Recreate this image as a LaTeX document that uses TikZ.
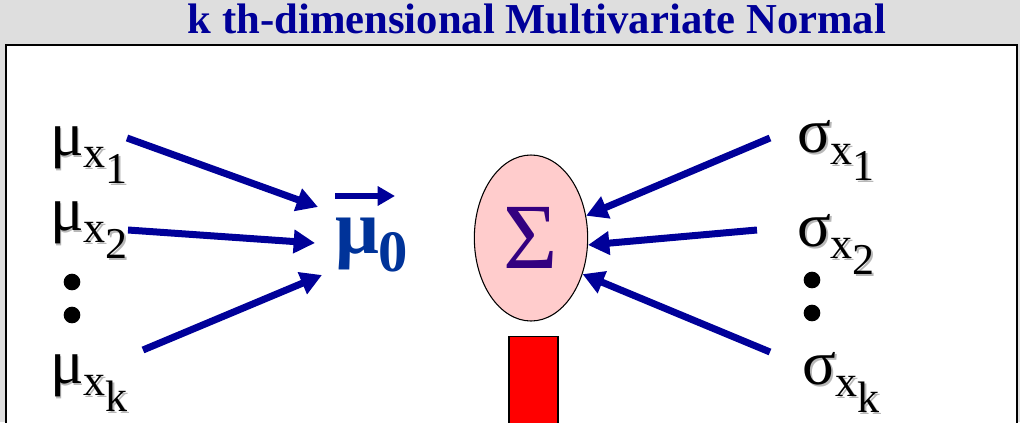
\documentclass[tikz,border=0pt]{standalone}
\usepackage{fontspec}
\setmainfont{Liberation Serif}
\usetikzlibrary{arrows.meta,shapes.geometric,calc}
\definecolor{bg}{RGB}{222,222,222}
\definecolor{titleblue}{RGB}{0,0,153}
\definecolor{arrowblue}{RGB}{0,0,153}
\definecolor{muzero}{RGB}{0,51,153}
\definecolor{sigmapurple}{RGB}{51,0,128}
\definecolor{pinkfill}{RGB}{255,204,204}
\newcommand\shd[1]{\makebox[0pt][l]{\kern1.5pt\raisebox{-1.5pt}{\color{black!28}#1}}#1}
\newcommand\glbl[3]{\shd{\fontsize{47}{47}\selectfont #1\raisebox{-9.5pt}{\fontsize{33}{33}\selectfont #2\raisebox{-11.5pt}{#3}}}}
\tikzset{
  lbl/.style={anchor=base west, inner sep=0pt, outer sep=0pt},
  bigarrow/.style={draw=arrowblue, line width=5.25pt, -{Triangle[length=16pt,width=17pt]}},
  vecarrow/.style={draw=arrowblue, line width=4.2pt, -{Triangle[length=13pt,width=14pt]}},
  dotnode/.style={circle, fill=black, minimum size=12.5pt, inner sep=0pt}
}
\begin{document}
\begin{tikzpicture}[x=0.75pt,y=-0.75pt]
\useasboundingbox (0,0) rectangle (1020,422);
\clip (0,0) rectangle (1020,422);
\fill[bg] (0,0) rectangle (1020,422);
\draw[line width=1.8pt, fill=white] (6,45) rectangle (1017,460);

\node[anchor=base, inner sep=0pt, text=titleblue, font=\fontsize{32}{32}\bfseries\selectfont] (title) at (537,33) {k th-dimensional Multivariate Normal};

% left labels
\node[lbl] (m1) at (50,155) {\glbl{μ}{x}{1}};
\node[lbl] (m2) at (50,230) {\glbl{μ}{x}{2}};
\node[lbl] (mk) at (50,383) {\glbl{μ}{x}{k}};
\node[dotnode] (ld1) at (72,282) {};
\node[dotnode] (ld2) at (72,315) {};

% mu0
\node[lbl, text=muzero] (mu0) at (335,253) {\fontsize{58}{58}\bfseries\selectfont μ\raisebox{-14pt}{\fontsize{44}{44}\selectfont 0}};
\draw[vecarrow] ($(mu0.base west)+(0,-57)$) -- ($(mu0.base west)+(60,-57)$);

% Sigma ellipse
\node[ellipse, draw, line width=0.8pt, fill=pinkfill, minimum width=85pt, minimum height=124.5pt, inner sep=0pt, text=sigmapurple, font=\fontsize{70}{70}\selectfont] (sig) at (531,238) {Σ};
\node[draw, line width=0.8pt, fill=red, minimum width=36.75pt, minimum height=90pt, anchor=north, inner sep=0pt] (bar) at (533.5,336) {};

% right labels
\node[lbl] (s1) at (797,152) {\glbl{σ}{x}{1}};
\node[lbl] (s2) at (797,246) {\glbl{σ}{x}{2}};
\node[lbl] (sk) at (802,384) {\glbl{σ}{x}{k}};
\node[dotnode] (rd1) at (812,280) {};
\node[dotnode] (rd2) at (812,313) {};

% arrows
\draw[bigarrow] ($(m1.base west)+(77,-17)$) -- ($(mu0.base west)+(-17,-46)$);
\draw[bigarrow] ($(m2.base west)+(78,0)$) -- ($(mu0.base west)+(-20,-10)$);
\draw[bigarrow] ($(mk.base west)+(93,-33)$) -- ($(mu0.base west)+(-13,22)$);

\draw[bigarrow] ($(s1.base west)+(-27,-14)$) -- (sig.22);
\draw[bigarrow] ($(s2.base west)+(-40,-16)$) -- (sig.-7);
\draw[bigarrow] ($(sk.base west)+(-32,-32)$) -- (sig.-35);
\end{tikzpicture}
\end{document}
